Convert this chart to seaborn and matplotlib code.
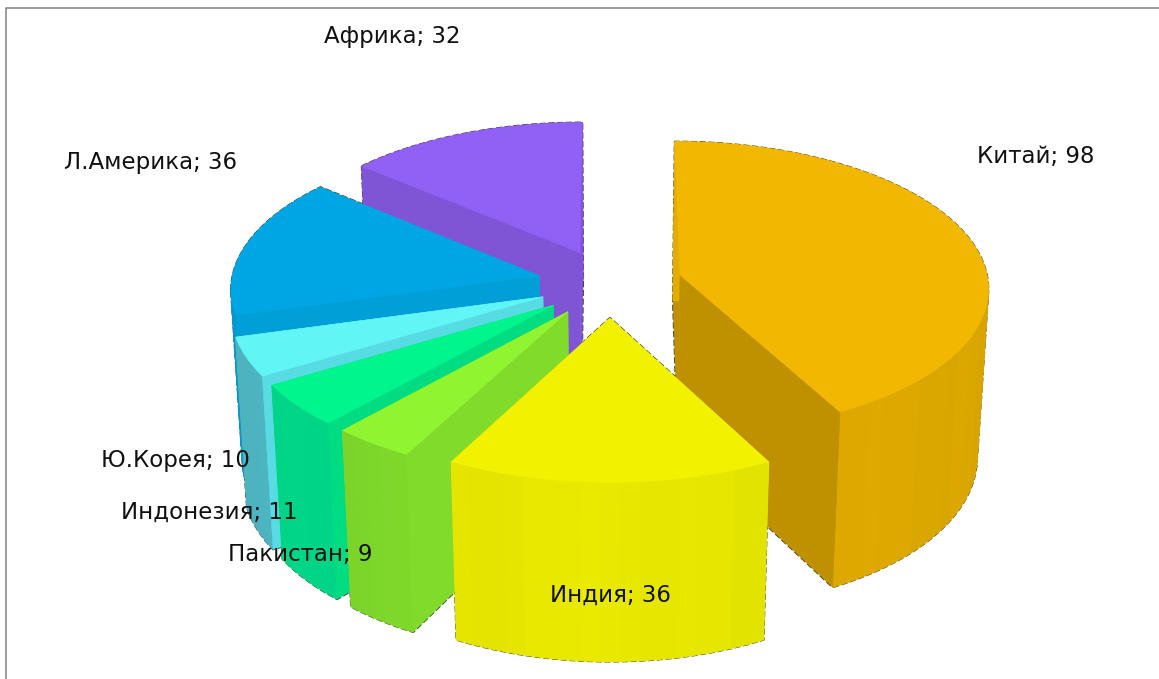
import numpy as np
import matplotlib
matplotlib.use('Agg')
import matplotlib.pyplot as plt
from matplotlib.colors import to_rgb
import seaborn as sns

# data
regions = ['Китай', 'Индия', 'Пакистан', 'Индонезия', 'Ю.Корея', 'Л.Америка', 'Африка']
values = [98, 36, 9, 11, 10, 36, 32]

# colours per slice: top, radial face, outer wall
top_colors = ['#F2B700', '#F2F200', '#90F530', '#00F58C', '#62F5F5', '#00A6E3', '#9160F5']
face_colors = ['#BF9000', '#D0D000', '#80DB2B', '#00DC82', '#57DCE4', '#009FD8', '#7F55D6']
wall_colors = ['#E3AD00', '#E8E800', '#80DB2B', '#00DC8C', '#50BCC8', '#009FD8', '#7F55D6']

# label positions in pixels (left edge, vertical centre)
label_pos = [(977, 156), (550, 595), (228, 554), (121, 512), (101, 461), (64, 162), (324, 37)]

# paint order, back to front
draw_order = [6, 5, 4, 3, 2, 0, 1]

# camera
CX, CY = 610, 451
ELEV = np.radians(31)
DIST = 11
FOCAL = 3290
HEIGHT = 0.635
EXPLODE = 0.235


def project(x, y, z):
    w = DIST + y * np.cos(ELEV) - z * np.sin(ELEV)
    s = FOCAL / w
    return CX + s * x, CY - s * (y * np.sin(ELEV) + z * np.cos(ELEV))


def shade(color, f):
    return tuple(min(1, c * f) for c in to_rgb(color))


def hull(points):
    pts = sorted(set(map(tuple, points)))
    def half(seq):
        out = []
        for p in seq:
            while len(out) > 1 and (out[-1][0]-out[-2][0])*(p[1]-out[-2][1]) - (out[-1][1]-out[-2][1])*(p[0]-out[-2][0]) <= 0:
                out.pop()
            out.append(p)
        return out[:-1]
    return half(pts) + half(pts[::-1])


def draw_slice(ax, a0, a1, top_c, face_c, wall_c, z):
    mid = (a0 + a1) / 2
    ox, oy = EXPLODE * np.sin(mid), EXPLODE * np.cos(mid)
    th = np.linspace(a0, a1, max(int(np.degrees(a1 - a0) / 3), 6))
    xs = ox + np.sin(th)
    ys = oy + np.cos(th)
    top_x, top_y = project(xs, ys, HEIGHT)
    bot_x, bot_y = project(xs, ys, 0)
    ax_t, ay_t = project(ox, oy, HEIGHT)
    ax_b, ay_b = project(ox, oy, 0)

    def face(i, color):
        ax.fill([ax_t, top_x[i], bot_x[i], ax_b], [ay_t, top_y[i], bot_y[i], ay_b],
                color=color, lw=0.4, zorder=z)

    # faces turned away go first, they only fill gaps behind the wall
    if np.sin(a0) >= 0:
        face(0, face_c)
    if np.sin(a1) <= 0:
        face(-1, face_c)

    # outer wall strips, back first, in wide bands of slightly different shade
    for i in np.argsort(-(ys[:-1] + ys[1:])):
        f = 1 - 0.05 * abs(np.sin(th[i])) + 0.008 * (int(np.degrees(th[i]) / 12) % 2)
        ax.fill([top_x[i], top_x[i+1], bot_x[i+1], bot_x[i]],
                [top_y[i], top_y[i+1], bot_y[i+1], bot_y[i]],
                color=shade(wall_c, f), lw=0.9, zorder=z)

    # radial faces that look towards the viewer
    if np.sin(a0) < 0:
        face(0, face_c)
    if np.sin(a1) > 0:
        face(-1, face_c)

    ax.fill(np.r_[ax_t, top_x], np.r_[ay_t, top_y], color=top_c, lw=0.4, zorder=z)

    # dashed silhouette, kept under all fills so only its outer half shows on the background
    outline = hull(list(zip(top_x, top_y)) + list(zip(bot_x, bot_y)) + [(ax_t, ay_t), (ax_b, ay_b)])
    outline.append(outline[0])
    line_x, line_y = zip(*outline)
    ax.plot(line_x, line_y, color='#3d3a2a', lw=1.5, ls=(0, (3, 1.2)), zorder=2)


sns.set_theme(style='white')
plt.rcParams['font.family'] = ['DejaVu Sans']

fig, ax = plt.subplots(figsize=(11.59, 6.79), dpi=100)
ax.set_position([0, 0, 1, 1])
ax.set_xlim(0, 1159)
ax.set_ylim(679, 0)
ax.axis('off')

# chart frame
ax.plot([6, 6, 1159], [679, 7.5, 7.5], color='#808080', lw=1.1)

angles = np.r_[0, np.cumsum(values)] / np.sum(values) * 2 * np.pi
for n, idx in enumerate(draw_order):
    draw_slice(ax, angles[idx], angles[idx + 1], top_colors[idx], face_colors[idx], wall_colors[idx], 3 + n)

for name, val, (x, y) in zip(regions, values, label_pos):
    ax.text(x, y, f'{name}; {val}', fontsize=16.5, color='#111111', va='center', ha='left', zorder=20)

fig.savefig('out.png', dpi=100)
